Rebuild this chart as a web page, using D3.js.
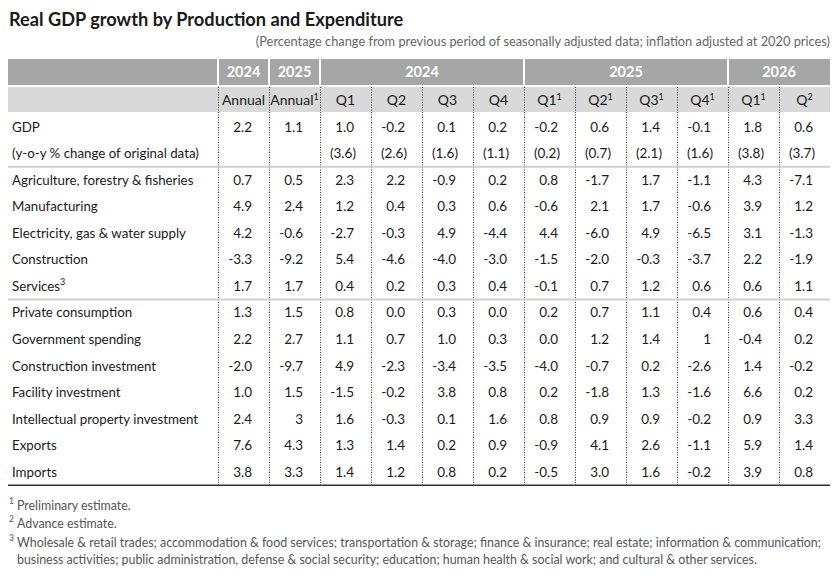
<!DOCTYPE html>
<html>
<head>
<meta charset="utf-8">
<style>
body{
  margin: 0;
  background-color: white;
}
svg text{
  font-family: Lato, "Noto Sans", sans-serif;
  fill: #1a1a1a;
}
.title{
  font-size: 18.2px;
  font-weight: bold;
}
.subtitle{
  font-size: 12.8px;
  fill: #666;
}
.head1 text{
  fill: white;
  font-weight: bold;
  font-size: 14.5px;
}
.head2 text{
  font-size: 14px;
}
.cells text{
  font-size: 13.5px;
}
.labels text{
  font-size: 13.3px;
}
.notes text{
  font-size: 12.4px;
  fill: #555;
}
</style>
</head>
<body>
<script src="https://cdn.jsdelivr.net/npm/d3@7"></script>
<script>
  var WIDTH = 838;
  var HEIGHT = 584;

  var title = "Real GDP growth by Production and Expenditure";
  var subtitle = "(Percentage change from previous period of seasonally adjusted data; inflation adjusted at 2020 prices)";

  // header rows
  var yearGroups = ["2024", "2025", "2024", "2025", "2026"];
  var yearSpans  = [1, 1, 4, 4, 2];
  var periods     = ["Annual", "Annual", "Q1", "Q2", "Q3", "Q4", "Q1", "Q2", "Q3", "Q4", "Q1", "Q"];
  var periodNotes = ["", "1", "", "", "", "", "1", "1", "1", "1", "1", "2"];

  // rows (values kept as printed)
  var rowLabels = ["GDP", "(y-o-y % change of original data)",
    "Agriculture, forestry & fisheries", "Manufacturing", "Electricity, gas & water supply",
    "Construction", "Services", "Private consumption", "Government spending",
    "Construction investment", "Facility investment", "Intellectual property investment",
    "Exports", "Imports"];
  var rowNotes = ["", "", "", "", "", "", "3", "", "", "", "", "", "", ""];

  var gdp           = ["2.2", "1.1", "1.0", "-0.2", "0.1", "0.2", "-0.2", "0.6", "1.4", "-0.1", "1.8", "0.6"];
  var gdpYoy        = ["", "", "(3.6)", "(2.6)", "(1.6)", "(1.1)", "(0.2)", "(0.7)", "(2.1)", "(1.6)", "(3.8)", "(3.7)"];
  var agriculture   = ["0.7", "0.5", "2.3", "2.2", "-0.9", "0.2", "0.8", "-1.7", "1.7", "-1.1", "4.3", "-7.1"];
  var manufacturing = ["4.9", "2.4", "1.2", "0.4", "0.3", "0.6", "-0.6", "2.1", "1.7", "-0.6", "3.9", "1.2"];
  var utilities     = ["4.2", "-0.6", "-2.7", "-0.3", "4.9", "-4.4", "4.4", "-6.0", "4.9", "-6.5", "3.1", "-1.3"];
  var construction  = ["-3.3", "-9.2", "5.4", "-4.6", "-4.0", "-3.0", "-1.5", "-2.0", "-0.3", "-3.7", "2.2", "-1.9"];
  var services      = ["1.7", "1.7", "0.4", "0.2", "0.3", "0.4", "-0.1", "0.7", "1.2", "0.6", "0.6", "1.1"];
  var privateCons   = ["1.3", "1.5", "0.8", "0.0", "0.3", "0.0", "0.2", "0.7", "1.1", "0.4", "0.6", "0.4"];
  var government    = ["2.2", "2.7", "1.1", "0.7", "1.0", "0.3", "0.0", "1.2", "1.4", "1", "-0.4", "0.2"];
  var constructInv  = ["-2.0", "-9.7", "4.9", "-2.3", "-3.4", "-3.5", "-4.0", "-0.7", "0.2", "-2.6", "1.4", "-0.2"];
  var facilityInv   = ["1.0", "1.5", "-1.5", "-0.2", "3.8", "0.8", "0.2", "-1.8", "1.3", "-1.6", "6.6", "0.2"];
  var ipInv         = ["2.4", "3", "1.6", "-0.3", "0.1", "1.6", "0.8", "0.9", "0.9", "-0.2", "0.9", "3.3"];
  var exportsRow    = ["7.6", "4.3", "1.3", "1.4", "0.2", "0.9", "-0.9", "4.1", "2.6", "-1.1", "5.9", "1.4"];
  var importsRow    = ["3.8", "3.3", "1.4", "1.2", "0.8", "0.2", "-0.5", "3.0", "1.6", "-0.2", "3.9", "0.8"];

  var rowValues = [gdp, gdpYoy, agriculture, manufacturing, utilities, construction, services,
    privateCons, government, constructInv, facilityInv, ipInv, exportsRow, importsRow];
  var separatorsAfter = [1, 6];

  var footnotes = [
    ["1", "Preliminary estimate."],
    ["2", "Advance estimate."],
    ["3", "Wholesale & retail trades; accommodation & food services; transportation & storage; finance & insurance; real estate; information & communication;"],
    ["", "business activities; public administration, defense & social security; education; human health & social work; and cultural & other services."]
  ];

  var TABLE_LEFT = 8, TABLE_RIGHT = 830, LABEL_RIGHT = 218;

  var xScale = d3.scaleBand()
    .domain(d3.range(periods.length))
    .range([LABEL_RIGHT, TABLE_RIGHT]);

  var yScale = d3.scaleBand()
    .domain(d3.range(rowLabels.length))
    .range([113.7, 485.3]);

  var svg = d3.select("body").append("svg")
    .attr("width", WIDTH)
    .attr("height", HEIGHT);

  svg.append("text")
    .attr("class", "title")
    .attr("x", 9).attr("y", 26)
    .text(title);

  svg.append("text")
    .attr("class", "subtitle")
    .attr("x", TABLE_RIGHT).attr("y", 46)
    .attr("text-anchor", "end")
    .text(subtitle);

  // header row 1: years
  var head1 = svg.append("g").attr("class", "head1");
  head1.append("rect")
    .attr("x", TABLE_LEFT).attr("y", 59)
    .attr("width", TABLE_RIGHT - TABLE_LEFT).attr("height", 26)
    .attr("fill", "#a6a6a6");

  var starts = [];
  yearSpans.reduce(function(acc, s){ starts.push(acc); return acc + s; }, 0);

  head1.selectAll("line.sep")
    .data(starts)
    .enter().append("line")
      .attr("class", "sep")
      .attr("x1", (d) => xScale(d)).attr("x2", (d) => xScale(d))
      .attr("y1", 59).attr("y2", 85)
      .attr("stroke", "white")
      .attr("stroke-width", 2);

  head1.selectAll("text")
    .data(yearGroups)
    .enter().append("text")
      .attr("x", (d, i) => xScale(starts[i]) + yearSpans[i] * xScale.bandwidth() / 2)
      .attr("y", 72)
      .attr("dy", "0.35em")
      .attr("text-anchor", "middle")
      .text((d) => d);

  // header row 2: periods
  var head2 = svg.append("g").attr("class", "head2");
  head2.append("rect")
    .attr("x", TABLE_LEFT).attr("y", 87)
    .attr("width", TABLE_RIGHT - TABLE_LEFT).attr("height", 25)
    .attr("fill", "#d9d9d9");

  var ptext = head2.selectAll("text")
    .data(periods)
    .enter().append("text")
      .attr("x", (d, i) => xScale(i) + xScale.bandwidth() / 2)
      .attr("y", 100)
      .attr("dy", "0.35em")
      .attr("text-anchor", "middle");
  ptext.append("tspan").text((d) => d);
  ptext.append("tspan")
    .attr("font-size", "9px")
    .attr("dy", "-0.6em")
    .text((d, i) => periodNotes[i]);

  // row labels
  var labels = svg.append("g").attr("class", "labels");
  var ltext = labels.selectAll("text")
    .data(rowLabels)
    .enter().append("text")
      .attr("x", 12)
      .attr("y", (d, i) => yScale(i) + yScale.bandwidth() / 2)
      .attr("dy", "0.35em");
  ltext.append("tspan").text((d) => d);
  ltext.append("tspan")
    .attr("font-size", "9px")
    .attr("dy", "-0.6em")
    .text((d, i) => rowNotes[i]);

  // cells
  var cells = svg.append("g").attr("class", "cells");
  rowValues.forEach(function(vals, r){
    cells.selectAll("text.r" + r)
      .data(vals)
      .enter().append("text")
        .attr("class", "r" + r)
        .attr("x", (d, i) => xScale(i) + xScale.bandwidth() - (d.charAt(0) == "(" ? 15 : 17))
        .attr("y", yScale(r) + yScale.bandwidth() / 2)
        .attr("dy", "0.35em")
        .attr("text-anchor", "end")
        .text((d) => d);
  });

  // grid lines
  var grid = svg.append("g").attr("class", "grid");
  grid.selectAll("line.vdot")
    .data(d3.range(periods.length))
    .enter().append("line")
      .attr("class", "vdot")
      .attr("x1", (d) => xScale(d) + 0.5).attr("x2", (d) => xScale(d) + 0.5)
      .attr("y1", 87).attr("y2", yScale.range()[1])
      .attr("stroke", "#333")
      .attr("stroke-width", 1)
      .attr("stroke-dasharray", "1,1.5");

  grid.selectAll("line.hsep")
    .data(separatorsAfter)
    .enter().append("line")
      .attr("class", "hsep")
      .attr("x1", TABLE_LEFT).attr("x2", TABLE_RIGHT)
      .attr("y1", (d) => yScale(d + 1)).attr("y2", (d) => yScale(d + 1))
      .attr("stroke", "#cfcfcf")
      .attr("stroke-width", 2);

  grid.append("line")
    .attr("x1", TABLE_LEFT).attr("x2", TABLE_RIGHT)
    .attr("y1", yScale.range()[1]).attr("y2", yScale.range()[1])
    .attr("stroke", "#333")
    .attr("stroke-width", 1.5);

  // footnotes
  var notes = svg.append("g").attr("class", "notes");
  var ntext = notes.selectAll("text")
    .data(footnotes)
    .enter().append("text")
      .attr("x", 9)
      .attr("y", (d, i) => 508 + i * 18.5);
  ntext.append("tspan")
    .attr("font-size", "8.5px")
    .attr("dy", "-0.5em")
    .text((d) => d[0]);
  ntext.append("tspan")
    .attr("x", 17)
    .attr("dy", (d) => d[0] ? "0.5em" : 0)
    .text((d) => d[1]);
</script>
</body>
</html>
